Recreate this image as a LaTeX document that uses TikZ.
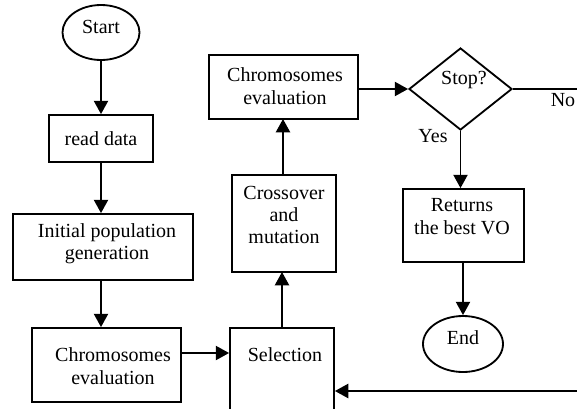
\documentclass[tikz,border=0pt]{standalone}
\usepackage{fontspec}
\setmainfont{Liberation Serif}
\usetikzlibrary{shapes.geometric,arrows.meta,fit}
\begin{document}
\begin{tikzpicture}[x=0.6pt,y=-0.6pt,
  box/.style={draw,line width=1.1pt,inner sep=0pt,rectangle},
  oval/.style={draw,ellipse,line width=1.1pt,inner sep=0pt},
  txt/.style={font=\fontsize{12}{13.4}\selectfont,align=center,inner sep=0pt},
  arr/.style={line width=1.1pt,-{Triangle[length=8pt,width=8.5pt]}},
  ln/.style={line width=1.1pt}]
\useasboundingbox (0,0) rectangle (577,408);
\clip (0,0) rectangle (577,408);
% shapes
\node[oval,minimum width=46.2pt,minimum height=33pt] (start) at (101,32.5) {};
\node[txt] (startT) at (101,27) {Start};
\node[box,fit={(49,115) (153,162)}] (read) {};
\node[txt] (readT) at (101,139) {read data};
\node[box,fit={(13,214) (193,280)}] (init) {};
\node[txt] (initT) at (107,244) {Initial population\\generation};
\node[box,fit={(32,328) (181,402)}] (chromA) {};
\node[txt] (chromAT) at (113,366) {Chromosomes\\evaluation};
\node[box,fit={(230,328) (334,440)}] (sel) {};
\node[txt] (selT) at (285,355) {Selection};
\node[box,fit={(232,175) (336,272)}] (cross) {};
\node[txt] (crossT) at (284,215) {Crossover\\and\\mutation};
\node[box,fit={(209,55) (358,119)}] (chromB) {};
\node[txt] (chromBT) at (285,86) {Chromosomes\\evaluation};
\node[draw,diamond,line width=1.1pt,inner sep=0pt,minimum width=61.8pt,minimum height=49.2pt] (stop) at (460.5,89) {};
\node[txt] (stopT) at (464,80) {Stop?};
\node[box,fit={(403,189) (524,262)}] (ret) {};
\node[txt] (retT) at (462,216.5) {Returns\\the best VO};
\node[oval,minimum width=48pt,minimum height=33.6pt] (end) at (463,344) {};
\node[txt] (endT) at (463,338) {End};
\node[txt] (noT) at (563,100) {No};
\node[txt] (yesT) at (433,136) {Yes};
\coordinate (noOut) at (580,89);
\coordinate (retIn) at (580,391);
% connectors
\draw[arr] (start.south) -- (start.south |- read.north);
\draw[arr] (read.south) -- (read.south |- init.north);
\draw[arr] (read.south |- init.south) -- (read.south |- chromA.north);
\draw[arr] (chromA.east |- 0,353) -- (sel.west |- 0,353);
\draw[arr] (retIn) -- (retIn -| sel.east);
\draw[arr] (282,328) -- (282,272);
\draw[arr] (283,175) -- (283,119);
\draw[arr] (chromB.east |- stop.west) -- (stop.west);
\draw[ln] (stop.east) -- (noOut);
\draw[arr] (stop.south) -- (stop.south |- ret.north);
\draw[arr] (end.north |- ret.south) -- (end.north);
\end{tikzpicture}
\end{document}
